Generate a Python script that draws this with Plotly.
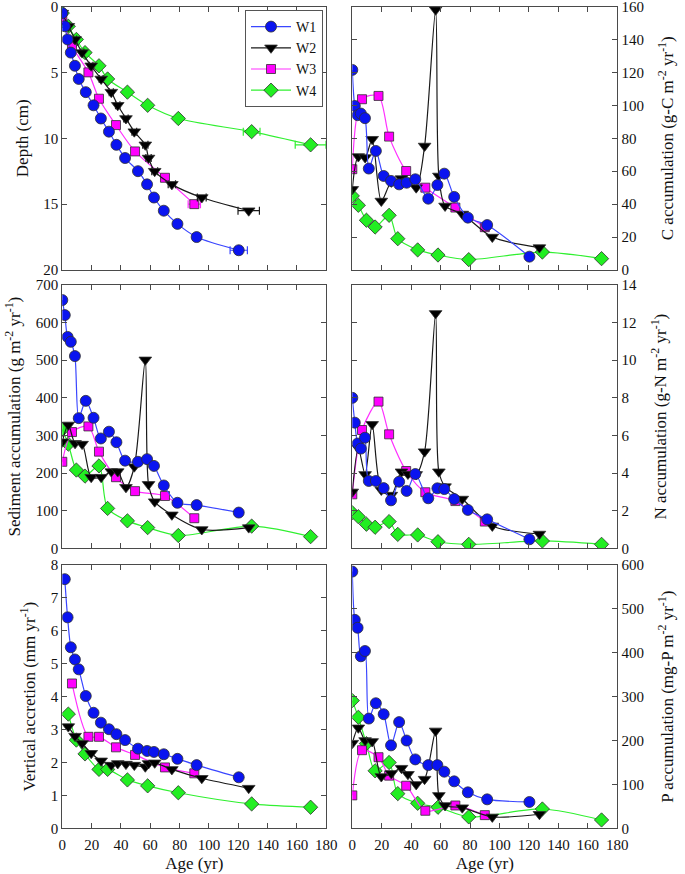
import plotly.graph_objects as go

# ---------------- data ----------------
W1_age = [0, 1.7, 3.6, 5.8, 8.6, 11.2, 16.0, 21.3, 26.3, 31.8, 36.9, 42.8, 51.6, 57.8, 62.5, 69.2, 78.5, 91.6, 120.3]
W1_depth = [0.5, 1.5, 2.5, 3.5, 4.5, 5.5, 6.5, 7.5, 8.5, 9.5, 10.5, 11.5, 12.5, 13.5, 14.5, 15.5, 16.5, 17.5, 18.5]
W1_err = [0.5, 0.5, 0.8, 1, 1, 1, 1.2, 1.2, 1.3, 1.3, 1.4, 1.5, 1.5, 1.6, 1.7, 1.8, 2, 2.5, 5.9]
W1_sed = [660, 620, 562, 549, 511, 346, 392, 347, 292, 310, 282, 233, 230, 237, 219, 167, 121, 115, 95]
W1_va = [7.57, 6.41, 5.5, 5.13, 4.83, 4.02, 3.51, 3.21, 3.01, 2.86, 2.68, 2.42, 2.35, 2.32, 2.25, 2.11, 1.92, 1.55]
W1_C = [121.5, 99.6, 94, 95, 92.2, 61.6, 72.3, 57.1, 54.1, 52, 53, 55.1, 43.3, 51.6, 58.5, 44.4, 31.8, 27.3, 8.1]
W1_N = [8.0, 6.68, 5.57, 5.3, 5.88, 3.58, 3.58, 3.2, 2.55, 3.54, 3.05, 3.95, 2.66, 3.19, 3.15, 2.62, 2.04, 1.54, 0.48]
W1_P = [585, 475, 457, 392, 404, 250, 285, 260, 189, 242, 200, 157, 144, 144, 129, 107, 82, 66, 60]

W2_age = [0, 4.1, 8.7, 13.5, 19.7, 26.5, 33.4, 37.8, 43.4, 49.1, 56.6, 58.8, 63.0, 74.7, 95.1, 127.1]
W2_depth = [0.5, 1.5, 2.5, 3.5, 4.5, 5.5, 6.5, 7.5, 8.5, 9.5, 10.5, 11.5, 12.5, 13.5, 14.5, 15.5]
W2_err = [0.5, 1, 1, 1.2, 1.2, 1.3, 1.4, 1.5, 1.5, 1.6, 1.8, 1.8, 2, 2.5, 3, 7.3]
W2_sed = [283, 328, 279, 277, 189, 189, 204, 204, 162, 217, 501, 170, 124, 89, 50, 55]
W2_va = [3.09, 2.80, 2.58, 2.28, 2.05, 1.92, 1.97, 1.95, 1.92, 1.87, 1.97, 1.99, 1.79, 1.52, 1.22]
W2_C = [49, 68.9, 68.3, 79.4, 41.9, 53.5, 55.5, 54, 50, 75.3, 158, 57.1, 38.9, 34, 20, 13.6]
W2_N = [3.0, 5.32, 3.93, 6.59, 3.10, 2.83, 4.07, 3.95, 3.93, 5.14, 12.49, 4.07, 3.28, 2.62, 1.19, 0.76]
W2_P = [194, 229, 200, 198, 118, 125, 137, 123, 100, 112, 222, 75, 52, 47, 26, 32]

W3_age = [0, 6.6, 17.8, 25.0, 36.6, 49.6, 70.0, 90.0]
W3_depth = [1, 3, 5, 7, 9, 11, 13, 15]
W3_err = [0.5, 1, 1.3, 1.5, 1.8, 2, 2.5, 4.2]
W3_sed = [230, 309, 324, 257, 189, 152, 139, 80]
W3_va = [4.4, 2.78, 2.78, 2.46, 2.23, 1.85, 1.67]
W3_C = [61.2, 103.7, 105.7, 81, 60.1, 50, 37.9, 26]
W3_N = [2.87, 6.29, 7.8, 6.06, 4.11, 2.98, 2.51, 1.42]
W3_P = [75, 178, 162, 120, 97, 40, 52, 30]

W4_age = [0, 4.1, 9.6, 15.5, 25.0, 30.9, 44.4, 58.2, 79.1, 129.1, 169.3]
W4_depth = [0.5, 1.5, 2.5, 3.5, 4.5, 5.5, 6.5, 7.5, 8.5, 9.5, 10.5]
W4_err = [0.5, 0.8, 1, 1, 1.2, 1.2, 1.4, 1.5, 1.8, 5.7, 10.5]
W4_sed = [316, 277, 208, 192, 219, 106, 73, 55, 34, 59, 31]
W4_va = [3.47, 2.68, 2.26, 1.79, 1.79, 1.47, 1.29, 1.08, 0.74, 0.64]
W4_C = [45, 39.3, 30.2, 26.1, 33.2, 19, 12.2, 9.1, 6.3, 10.9, 6.9]
W4_N = [1.89, 1.68, 1.28, 1.12, 1.42, 0.74, 0.71, 0.35, 0.21, 0.39, 0.21]
W4_P = [291, 253, 193, 131, 150, 79, 57, 48, 26, 44, 19]

series_names = ["W1", "W2", "W3", "W4"]
x_ticks = [0, 20, 40, 60, 80, 100, 120, 140, 160, 180]

# ---------------- styles ----------------
FONT = "Liberation Serif"
styles = {
    "W1": dict(line="#3a46ff", fill="#0a14f0", symbol="circle", size=11),
    "W2": dict(line="#1a1a1a", fill="#000000", symbol="triangle-down", size=11),
    "W3": dict(line="#ff30ff", fill="#ff00ff", symbol="square", size=9),
    "W4": dict(line="#30f030", fill="#22ee22", symbol="diamond", size=11),
}

series = {
    "W1": dict(age=W1_age, depth=W1_depth, err=W1_err, sed=W1_sed, va=W1_va, C=W1_C, N=W1_N, P=W1_P),
    "W2": dict(age=W2_age, depth=W2_depth, err=W2_err, sed=W2_sed, va=W2_va, C=W2_C, N=W2_N, P=W2_P),
    "W3": dict(age=W3_age, depth=W3_depth, err=W3_err, sed=W3_sed, va=W3_va, C=W3_C, N=W3_N, P=W3_P),
    "W4": dict(age=W4_age, depth=W4_depth, err=W4_err, sed=W4_sed, va=W4_va, C=W4_C, N=W4_N, P=W4_P),
}

fig = go.Figure()

panels = {
    "depth": ("x", "y"),
    "C": ("x2", "y2"),
    "sed": ("x3", "y3"),
    "N": ("x4", "y4"),
    "va": ("x5", "y5"),
    "P": ("x6", "y6"),
}

def add(name, key, xs, ys, err=None):
    s = styles[name]
    xa, ya = panels[key]
    tr = go.Scatter(
        x=xs, y=ys, mode="lines+markers", name=name,
        line=dict(color=s["line"], width=1.2, shape="spline", smoothing=0.8),
        marker=dict(symbol=s["symbol"], size=s["size"], color=s["fill"],
                    line=dict(color="#303030", width=0.8)),
        xaxis=xa, yaxis=ya, showlegend=False, legendgroup=name,
    )
    if err is not None:
        tr.error_x = dict(type="data", array=err, visible=True,
                          color=s["line"], thickness=1.2, width=4)
    fig.add_trace(tr)

for nm in ["W4", "W3", "W2", "W1"]:
    d = series[nm]
    add(nm, "depth", d["age"], d["depth"], err=d["err"])
    add(nm, "C", d["age"], d["C"])
    add(nm, "sed", d["age"], d["sed"])
    add(nm, "N", d["age"], d["N"])
    add(nm, "va", d["age"][1:], d["va"])
    add(nm, "P", d["age"], d["P"])

for nm in series_names:
    s = styles[nm]
    fig.add_trace(go.Scatter(
        x=[None], y=[None], mode="lines+markers", name=nm,
        line=dict(color=s["line"], width=1.2),
        marker=dict(symbol=s["symbol"], size=s["size"], color=s["fill"],
                    line=dict(color="#303030", width=0.8)),
        xaxis="x", yaxis="y", showlegend=True))

W, H = 685, 874
xl = [62.3 / W, 326.3 / W]
xr = [352.3 / W, 617.3 / W]
def ydom(top, bot):
    return [1 - bot / H, 1 - top / H]
yt = ydom(6.5, 270)
ym = ydom(285, 548.3)
yb = ydom(565, 828.3)

AX = dict(showline=True, mirror="ticks", linecolor="#4a4a4a", linewidth=1.3,
          ticks="inside", ticklen=5, tickwidth=1.2, tickcolor="#4a4a4a",
          showgrid=False, zeroline=False, automargin=False,
          ticklabeloverflow="allow",
          tickfont=dict(family=FONT, size=15, color="#111"))
TF = dict(family=FONT, size=17, color="#111")

def xax(dom, anchor, labels, title=None):
    d = dict(AX, domain=dom, anchor=anchor, range=[0, 180], tickvals=x_ticks,
             showticklabels=labels, ticklabelstandoff=3)
    if title:
        d["title"] = dict(text=title, font=TF, standoff=4)
    return d

def yax(dom, anchor, rng, dtick, title, side="left"):
    return dict(AX, domain=dom, anchor=anchor, range=rng, dtick=dtick, side=side,
                title=dict(text=title, font=TF, standoff=10 if side == "left" else 18))

layout = dict(
    width=W, height=H, margin=dict(l=0, r=0, t=0, b=0, autoexpand=False),
    paper_bgcolor="white", plot_bgcolor="white",
    font=dict(family=FONT, color="#111"),
    xaxis=xax(xl, "y", False),
    yaxis=yax(yt, "x", [20, 0], 5, "Depth (cm)"),
    xaxis2=xax(xr, "y2", False),
    yaxis2=yax(yt, "x2", [0, 160], 20, "C accumulation (g-C m<sup>-2</sup> yr<sup>-1</sup>)", side="right"),
    xaxis3=xax(xl, "y3", False),
    yaxis3=yax(ym, "x3", [0, 700], 100, "Sediment accumulation (g m<sup>-2</sup> yr<sup>-1</sup>)"),
    xaxis4=xax(xr, "y4", False),
    yaxis4=yax(ym, "x4", [0, 14], 2, "N accumulation (g-N m<sup>-2</sup> yr<sup>-1</sup>)", side="right"),
    xaxis5=xax(xl, "y5", True, "Age (yr)"),
    yaxis5=yax(yb, "x5", [0, 8], 1, "Vertical accretion (mm yr<sup>-1</sup>)"),
    xaxis6=xax(xr, "y6", True, "Age (yr)"),
    yaxis6=yax(yb, "x6", [0, 600], 100, "P accumulation (mg-P m<sup>-2</sup> yr<sup>-1</sup>)", side="right"),
    legend=dict(x=323 / W, xanchor="right", y=1 - 10 / H, yanchor="top",
                bgcolor="white", bordercolor="#555", borderwidth=1,
                font=dict(family=FONT, size=14, color="#111"),
                itemwidth=40, tracegroupgap=0),
    showlegend=True,
)
fig.update_layout(**layout)
fig.write_html("out.html",
               config={"displayModeBar": False},
               post_script="document.body.style.margin='0';document.body.style.overflow='hidden';")
